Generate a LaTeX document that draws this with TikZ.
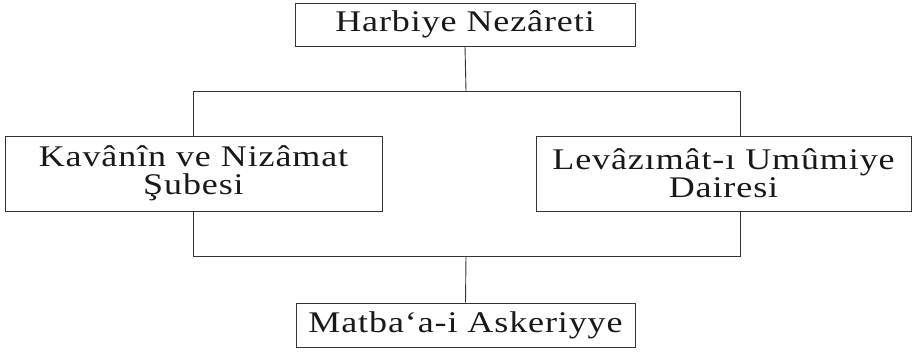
\documentclass[tikz,border=0pt]{standalone}
\usepackage{fontspec}
\setmainfont{Liberation Serif}[FakeStretch=1.2,LetterSpace=3]
\begin{document}
\begin{tikzpicture}[x=1pt,y=1pt,
  box/.style={draw=black!80,line width=0.9pt,inner sep=0pt,align=center,
    font=\fontsize{30}{28}\selectfont,text=black!90},
  conn/.style={draw=black!80,line width=0.9pt}]
\useasboundingbox (0,0) rectangle (915,351);
\node[box,minimum width=340,minimum height=43] (top) at (465,326.5) {Harbiye Nezâreti};
\node[box,minimum width=377,minimum height=75] (left) at (193.5,177.5) {Kavânîn ve Nizâmat\\Şubesi};
\node[box,minimum width=375,minimum height=75] (right) at (723.5,177.5) {Levâzımât-ı Umûmiye\\Dairesi};
\node[box,minimum width=339,minimum height=44] (bottom) at (465.5,26) {Matba‘a-i Askeriyye};
\coordinate (hubtop) at (466,260);
\coordinate (hubbot) at (466,95);
\draw[conn] (top.south) -- (hubtop);
\draw[conn] (hubtop) -| (left.north);
\draw[conn] (hubtop) -| ([xshift=16.5pt]right.north);
\draw[conn] (left.south) |- (hubbot);
\draw[conn] ([xshift=16.5pt]right.south) |- (hubbot);
\draw[conn] (hubbot) -- (bottom.north);
\end{tikzpicture}
\end{document}
